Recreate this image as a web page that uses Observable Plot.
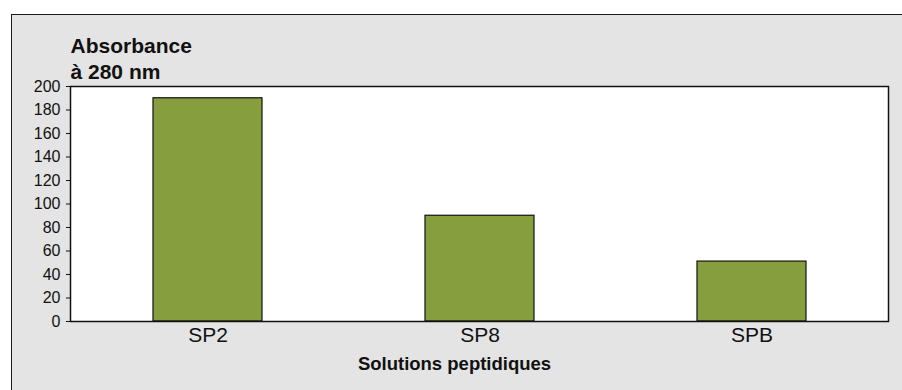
<!DOCTYPE html>
<html>
<head>
<meta charset="utf-8">
<script src="https://cdn.jsdelivr.net/npm/d3@7"></script>
<script src="https://cdn.jsdelivr.net/npm/@observablehq/plot@0.6"></script>
<style>
  html, body { margin: 0; padding: 0; background: #ffffff; overflow: hidden; width: 902px; height: 390px; }
  #frame { position: absolute; left: 11px; top: 14px; width: 1000px; height: 500px; border: 1.5px solid #1a1a1a; background: #e4e4e4; }
  #chart { position: absolute; left: 0; top: 0; }
</style>
</head>
<body>
<div id="frame"></div>
<div id="chart"></div>
<script>
const categories = ["SP2", "SP8", "SPB"];
const values = [190, 90, 51];
const yTicks = [0, 20, 40, 60, 80, 100, 120, 140, 160, 180, 200];
const titleLines = ["Absorbance", "à 280 nm"];
const xTitle = "Solutions peptidiques";

const data = categories.map((c, i) => ({ cat: c, val: values[i] }));

const chart = Plot.plot({
  width: 902,
  height: 390,
  marginLeft: 70,
  marginRight: 14,
  marginTop: 86,
  marginBottom: 69,
  style: { background: "transparent", fontFamily: "'Liberation Sans', Arial, sans-serif", color: "#111" },
  x: { domain: categories, paddingInner: 0.6, paddingOuter: 0.3 },
  y: { domain: [0, 200] },
  marks: [
    Plot.frame({ fill: "white", stroke: "none" }),
    Plot.barY(data, { x: "cat", y: "val", fill: "#879e3e", stroke: "#111", strokeWidth: 1.2 }),
    Plot.frame({ stroke: "#111", strokeWidth: 1.5 }),
    Plot.axisY({ ticks: yTicks, tickSize: 4, tickPadding: 6, fontSize: 16, label: null, tickFormat: d => String(d) }),
    Plot.axisX({ tickSize: 0, tickPadding: 6, fontSize: 21, label: null }),
    Plot.text([titleLines.join("\n")], {
      frameAnchor: "top-left", textAnchor: "start", lineAnchor: "bottom",
      lineHeight: 1.2, dx: 0, dy: -8, fontSize: 21, fontWeight: "bold", fill: "#111"
    }),
    Plot.text([xTitle], {
      frameAnchor: "bottom", dx: -25, dy: 48, fontSize: 18.5, fontWeight: "bold", fill: "#111"
    })
  ]
});
document.getElementById("chart").appendChild(chart);
</script>
</body>
</html>
